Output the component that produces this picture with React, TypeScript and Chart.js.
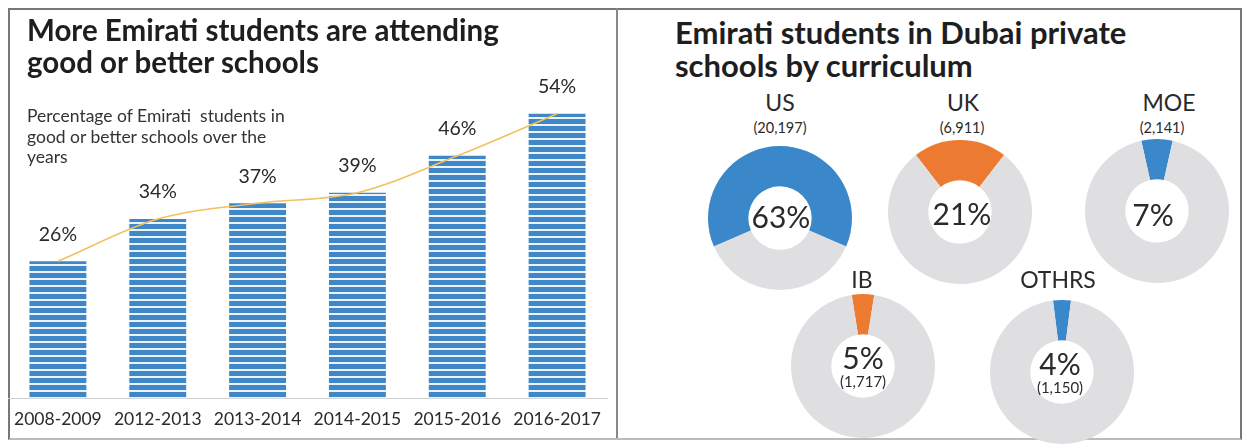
import React, { useEffect, useRef } from "react";
import { Chart, registerables } from "chart.js";

Chart.register(...registerables);

// ---------- data ----------
const years = ["2008-2009", "2012-2013", "2013-2014", "2014-2015", "2015-2016", "2016-2017"];
const goodSchoolShare = [26, 34, 37, 39, 46, 54];

const curricula = ["US", "UK", "MOE", "IB", "OTHRS"];
const curriculumShare = [63, 21, 7, 5, 4];
const curriculumCounts = ["20,197", "6,911", "2,141", "1,717", "1,150"];

const FONT = "Lato, 'Noto Sans', sans-serif";
const TEXT = "#2a2a2a";
const BLUE = "#3a87c9";
const ORANGE = "#ec7a31";
const GRAY = "#dfdfe1";

// donut layout (centre positions, colour, whether count is drawn inside)
const donutLayout = [
  { cx: 780, cy: 218, lx: 780, ly: 102, cly: 128, clx: 780, color: BLUE, inside: false, px: 781, py: 216 },
  { cx: 960, cy: 212, lx: 963, ly: 102, cly: 128, clx: 962, color: ORANGE, inside: false, px: 962, py: 213 },
  { cx: 1157, cy: 211, lx: 1169, ly: 102, cly: 128, clx: 1162, color: BLUE, inside: false, px: 1153, py: 214 },
  { cx: 863, cy: 366, lx: 862, ly: 279, cly: 381, clx: 863, color: ORANGE, inside: true, px: 863, py: 357 },
  { cx: 1062, cy: 372, lx: 1058, ly: 279, cly: 387, clx: 1060, color: BLUE, inside: true, px: 1060, py: 363 },
];

function makeStripes(): CanvasPattern | string {
  const pc = document.createElement("canvas");
  pc.width = 8;
  pc.height = 7;
  const c = pc.getContext("2d");
  if (!c) return "#3f86c6";
  c.fillStyle = "#eaf2fa";
  c.fillRect(0, 0, 8, 7);
  c.fillStyle = "#4087c7";
  c.fillRect(0, 0, 8, 5);
  const ctx = document.createElement("canvas").getContext("2d");
  const p = ctx ? ctx.createPattern(pc, "repeat") : null;
  return p || "#3f86c6";
}

const valueLabels = {
  id: "valueLabels",
  afterDatasetsDraw(chart: any) {
    const meta = chart.getDatasetMeta(1);
    const ctx = chart.ctx;
    ctx.save();
    ctx.font = `19.5px ${FONT}`;
    ctx.fillStyle = TEXT;
    ctx.textAlign = "center";
    ctx.textBaseline = "middle";
    meta.data.forEach((el: any, i: number) => {
      ctx.fillText(`${goodSchoolShare[i]}%`, el.x, el.y - 27);
    });
    ctx.restore();
  },
};

function BarChart() {
  const ref = useRef<HTMLCanvasElement>(null);
  useEffect(() => {
    if (!ref.current) return;
    const chart = new Chart(ref.current, {
      type: "bar",
      data: {
        labels: years,
        datasets: [
          {
            type: "line",
            data: goodSchoolShare,
            borderColor: "#f1c15c",
            borderWidth: 1.6,
            pointRadius: 0,
            cubicInterpolationMode: "monotone",
            order: 0,
          } as any,
          {
            type: "bar",
            data: goodSchoolShare,
            backgroundColor: makeStripes() as any,
            borderWidth: 0,
            categoryPercentage: 1,
            barPercentage: 0.57,
            order: 1,
          },
        ],
      },
      options: {
        responsive: false,
        animation: false,
        events: [],
        layout: { padding: { left: 8, right: 13, top: 82, bottom: 5.6 } },
        plugins: { legend: { display: false }, tooltip: { enabled: false } },
        scales: {
          x: {
            grid: { display: false, drawTicks: false },
            border: { display: true, color: "#cfcfcf", width: 1 },
            ticks: { color: TEXT, font: { family: FONT, size: 17.5 }, padding: 10, maxRotation: 0 },
          },
          y: { display: false, min: 0, max: 60 },
        },
      },
      plugins: [valueLabels],
    });
    return () => chart.destroy();
  }, []);
  return (
    <canvas
      ref={ref}
      width={620}
      height={445}
      style={{ position: "absolute", left: 0, top: 0, width: 620, height: 445, display: "block" }}
    />
  );
}

function Donut({ idx }: { idx: number }) {
  const ref = useRef<HTMLCanvasElement>(null);
  const L = donutLayout[idx];
  const v = curriculumShare[idx];
  useEffect(() => {
    if (!ref.current) return;
    const chart = new Chart(ref.current, {
      type: "doughnut",
      data: {
        labels: [curricula[idx], "rest"],
        datasets: [
          {
            data: [v, 100 - v],
            backgroundColor: [L.color, GRAY],
            borderWidth: 0,
            hoverOffset: 0,
          },
        ],
      },
      options: {
        responsive: false,
        animation: false,
        events: [],
        cutout: "44%",
        rotation: -v * 1.8,
        layout: { padding: 0 },
        plugins: { legend: { display: false }, tooltip: { enabled: false } },
      },
    });
    return () => chart.destroy();
  }, []);
  const centred = (x: number, y: number, size: number, text: string, key: string) => (
    <div
      key={key}
      style={{
        position: "absolute",
        left: x,
        top: y,
        transform: "translate(-50%, -50%)",
        fontFamily: FONT,
        fontSize: size,
        lineHeight: 1,
        color: TEXT,
        whiteSpace: "nowrap",
      }}
    >
      {text}
    </div>
  );
  return (
    <>
      <canvas
        ref={ref}
        width={144}
        height={144}
        style={{ position: "absolute", left: L.cx - 72, top: L.cy - 72, width: 144, height: 144, display: "block" }}
      />
      {centred(L.lx, L.ly, 23, curricula[idx], "n")}
      {centred(L.clx, L.cly, L.inside ? 15 : 14.5, `(${curriculumCounts[idx]})`, "c")}
      {centred(L.px, L.py, 30, `${v}%`, "p")}
    </>
  );
}

export default function App() {
  const titleStyle: React.CSSProperties = {
    position: "absolute",
    fontFamily: FONT,
    fontWeight: 700,
    color: "#1e1e1e",
    whiteSpace: "pre",
  };
  return (
    <div
      style={{
        position: "fixed",
        left: 0,
        top: 0,
        width: 1248,
        height: 445,
        background: "#ffffff",
        overflow: "hidden",
      }}
    >
      <div
        style={{
          position: "absolute",
          left: 8,
          top: 8,
          width: 1230,
          height: 428,
          border: "2px solid #777",
          borderBottomColor: "#bbb",
          boxSizing: "content-box",
        }}
      />
      <div style={{ position: "absolute", left: 616, top: 8, width: 2, height: 430, background: "#888" }} />
      <BarChart />
      <div style={{ ...titleStyle, left: 27, top: 14, fontSize: 29.5, lineHeight: "32px" }}>
        {"More Emirati students are attending\ngood or better schools"}
      </div>
      <div
        style={{
          position: "absolute",
          left: 27,
          top: 106,
          fontFamily: FONT,
          fontSize: 17.5,
          lineHeight: "20.5px",
          color: "#333",
          whiteSpace: "pre",
        }}
      >
        {"Percentage of Emirati  students in\ngood or better schools over the\nyears"}
      </div>
      <div style={{ ...titleStyle, left: 675, top: 16, fontSize: 31, lineHeight: "33px" }}>
        {"Emirati students in Dubai private\nschools by curriculum"}
      </div>
      {curricula.map((_, i) => (
        <Donut key={i} idx={i} />
      ))}
    </div>
  );
}
